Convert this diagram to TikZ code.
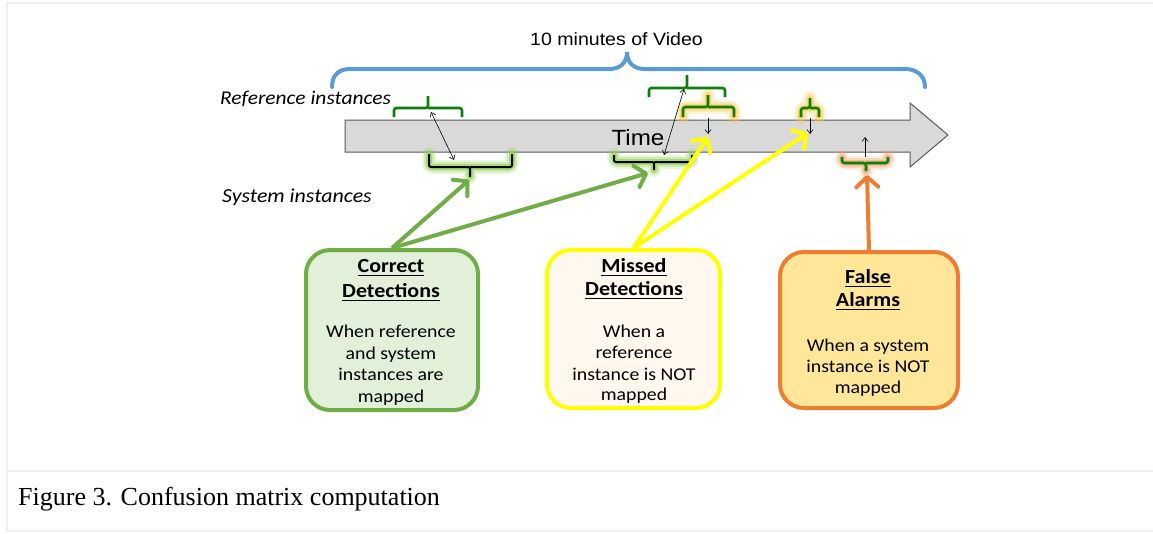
\documentclass[tikz,border=0pt]{standalone}
\usepackage{fontspec}
\setmainfont{Carlito}[FakeStretch=1.1]
\newfontfamily\arialf{Liberation Sans}[FakeStretch=1.1]
\newfontfamily\capf{Liberation Serif}
\usetikzlibrary{arrows.meta}
\definecolor{vblue}{RGB}{91,155,213}
\definecolor{bgreen}{RGB}{10,128,10}
\definecolor{cgreen}{RGB}{112,173,71}
\definecolor{cgreenfill}{RGB}{226,239,217}
\definecolor{myellow}{RGB}{255,255,0}
\definecolor{myellowfill}{RGB}{254,248,239}
\definecolor{morange}{RGB}{237,125,49}
\definecolor{morangefill}{RGB}{255,230,153}
\definecolor{tgray}{RGB}{217,217,217}
\definecolor{framec}{RGB}{240,240,240}
\definecolor{glowgreen}{RGB}{146,208,80}
\definecolor{glowyellow}{RGB}{255,205,80}
\definecolor{gloworange}{RGB}{244,165,110}
\newcommand\myul[1]{\setbox0\hbox{#1}\rlap{\rule[-3.6pt]{\wd0}{1.1pt}}\box0}
\newcommand\upbr[6]{(#1,#4) -- (#1,#5) -- (#3,#5) -- (#3,#6) (#3,#5) -- (#2,#5) -- (#2,#4)}
\tikzset{
  boxstyle/.style={rectangle, rounded corners=24pt, line width=4pt, inner sep=0pt},
  titletxt/.style={anchor=base, inner sep=0pt, font=\bfseries\fontsize{20}{24}\selectfont},
  bodytxt/.style={anchor=base, inner sep=0pt, font=\fontsize{18}{22}\selectfont},
  thickarr/.style={line width=4pt, -{Straight Barb[length=10pt,width=22pt,round]}},
  thinarr/.style={line width=0.6pt, -{Straight Barb[length=4pt,width=6pt]}},
  thinbi/.style={line width=0.6pt, {Straight Barb[length=4pt,width=6pt]}-{Straight Barb[length=4pt,width=6pt]}},
  refbrace/.style={draw=bgreen, line width=2.6pt, rounded corners=2.5pt},
  sysbrace/.style={draw=black, line width=2pt, rounded corners=2pt},
  glowa/.style={draw=#1, line width=14pt, opacity=0.18, line cap=round, line join=round, rounded corners=4pt},
  glowb/.style={draw=#1, line width=10pt, opacity=0.3, line cap=round, line join=round, rounded corners=3pt},
  glowc/.style={draw=#1, line width=6pt, opacity=0.6, line cap=round, line join=round, rounded corners=3pt},
}
\newcommand\glowbr[7]{%
  \draw[glowa=#7] \upbr{#1}{#2}{#3}{#4}{#5}{#6};
  \draw[glowb=#7] \upbr{#1}{#2}{#3}{#4}{#5}{#6};
  \draw[glowc=#7] \upbr{#1}{#2}{#3}{#4}{#5}{#6};}
\begin{document}
\begin{tikzpicture}[x=1pt,y=-1pt]
\useasboundingbox (0,0) rectangle (1153,533);
\fill[white] (0,0) rectangle (1153,533);
% frame
\draw[framec, line width=2pt] (1153,3) -- (7,3) -- (7,531) -- (1153,531);
\draw[framec, line width=2pt] (7,471) -- (1153,471);

% top blue brace
\draw[vblue, line width=4pt, line cap=round] (332,87) .. controls (332,76) and (338,69) .. (350,69) -- (609,69) .. controls (620,69) and (627,63) .. (627,52) .. controls (627,63) and (634,69) .. (645,69) -- (905,69) .. controls (917,69) and (925,76) .. (925,87);
\node[anchor=base, inner sep=0pt, font=\arialf\fontsize{17.8}{21}\selectfont] (vid) at (616.5,45) {10 minutes of Video};

% time arrow
\draw[fill=tgray, draw=black!65, line width=1pt] (345,120) -- (910,120) -- (910,103) -- (948,135) -- (910,167) -- (910,152) -- (345,152) -- cycle;
\node[inner sep=0pt, font=\arialf\fontsize{22}{26}\selectfont] (time) at (638,138) {Time};

% labels
\node[anchor=base, inner sep=0pt, font=\itshape\fontsize{19.5}{23}\selectfont] (reflab) at (305.5,104) {Reference instances};
\node[anchor=base, inner sep=0pt, font=\itshape\fontsize{19.9}{23}\selectfont] (syslab) at (297,202) {System instances};

% glows
\glowbr{429}{512}{470}{154}{167}{177}{glowgreen}
\glowbr{614}{692}{654}{155}{162}{170}{glowgreen}
\glowbr{683}{734}{708}{117}{107}{95}{glowyellow}
\glowbr{801}{819}{810}{117}{108}{98}{glowyellow}
\glowbr{842}{888}{866}{157}{163}{171}{gloworange}

% braces
\draw[refbrace] \upbr{394}{462}{428}{117}{108}{96};
\draw[refbrace] \upbr{649}{725}{687}{97}{88}{75};
\draw[refbrace] \upbr{683}{734}{708}{117}{107}{95};
\draw[refbrace] \upbr{801}{819}{810}{117}{108}{98};
\draw[sysbrace] \upbr{429}{512}{470}{154}{167}{177};
\draw[sysbrace] \upbr{614}{692}{654}{155}{162}{170};
\draw[refbrace] \upbr{842}{888}{866}{157}{163}{171};

% coordinates for connectors
\coordinate (r1) at (431,112);
\coordinate (s1) at (454,160);
\coordinate (r2) at (684,89);
\coordinate (s2) at (664,155);
\coordinate (r3a) at (708,118);
\coordinate (r3b) at (708,134);
\coordinate (r4a) at (810,118);
\coordinate (r4b) at (810,134);
\coordinate (s3a) at (865,157);
\coordinate (s3b) at (865,137);
\coordinate (s1tip) at (469,180);
\coordinate (s2tip) at (648,173);
\coordinate (m1tip) at (708,137);
\coordinate (m2tip) at (808,133);
\coordinate (s3tip) at (867,175);

\draw[thinbi] (r1) -- (s1);
\draw[thinbi] (r2) -- (s2);
\draw[thinarr] (r3a) -- (r3b);
\draw[thinarr] (r4a) -- (r4b);
\draw[thinarr] (s3a) -- (s3b);

% boxes
\node[boxstyle, draw=cgreen, fill=cgreenfill, minimum width=172pt, minimum height=160pt] (cd) at (392,330) {};
\node[boxstyle, draw=myellow, fill=myellowfill, minimum width=173pt, minimum height=158pt] (md) at (633.5,329) {};
\node[boxstyle, draw=morange, fill=morangefill, minimum width=178pt, minimum height=156pt] (fa) at (869,330) {};

% thick arrows
\draw[thickarr, cgreen] (cd.north) -- (s1tip);
\draw[thickarr, cgreen] (cd.north) -- (s2tip);
\draw[thickarr, myellow] (md.north) -- (m1tip);
\draw[thickarr, myellow] (md.north) -- (m2tip);
\draw[thickarr, morange] (fa.north) -- (s3tip);

% box texts
\node[titletxt] (cdt1) at (391,272) {\myul{Correct}};
\node[titletxt] (cdt2) at (391,297) {\myul{Detections}};
\node[bodytxt] (cdb1) at (391,337) {When reference};
\node[bodytxt] (cdb2) at (391,359) {and system};
\node[bodytxt] (cdb3) at (391,380) {instances are};
\node[bodytxt] (cdb4) at (391,402) {mapped};

\node[titletxt] (mdt1) at (634,272) {\myul{Missed}};
\node[titletxt] (mdt2) at (634,295) {\myul{Detections}};
\node[bodytxt] (mdb1) at (634,337) {When a};
\node[bodytxt] (mdb2) at (634,358) {reference};
\node[bodytxt] (mdb3) at (634,380) {instance is NOT};
\node[bodytxt] (mdb4) at (634,400) {mapped};

\node[titletxt] (fat1) at (868,283) {\myul{False}};
\node[titletxt] (fat2) at (868,306) {\myul{Alarms}};
\node[bodytxt] (fab1) at (868,351) {When a system};
\node[bodytxt] (fab2) at (868,372) {instance is NOT};
\node[bodytxt] (fab3) at (868,393) {mapped};

% caption
\node[anchor=base west, inner sep=0pt, font=\capf\fontsize{26}{30}\selectfont] (cap) at (18,505) {Figure 3. Confusion matrix computation};
\end{tikzpicture}
\end{document}
